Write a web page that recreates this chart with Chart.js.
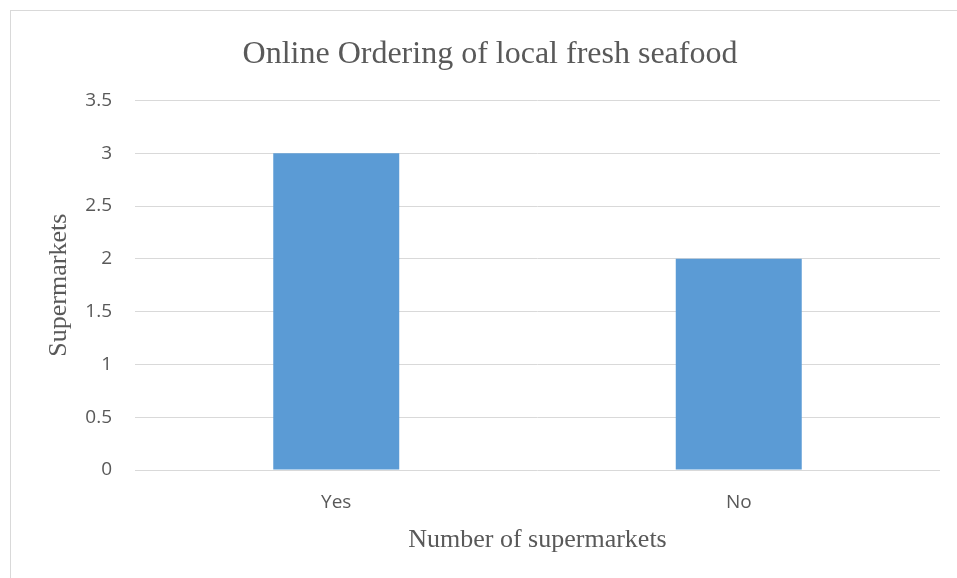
<!DOCTYPE html>
<html>
<head>
<meta charset="utf-8">
<title>Online Ordering of local fresh seafood</title>
<script src="https://cdn.jsdelivr.net/npm/chart.js@4.4.1/dist/chart.umd.min.js"></script>
<style>
  html, body { margin: 0; padding: 0; background: #fff; overflow: hidden; }
  #frame {
    position: absolute; left: 10px; top: 10px; width: 1000px; height: 600px;
    border-left: 1px solid #d9d9d9; border-top: 1px solid #d9d9d9;
  }
  #seafoodChart { position: absolute; left: 0; top: 0; }
</style>
</head>
<body>
<div id="frame"></div>
<canvas id="seafoodChart" width="957" height="578"></canvas>
<script>
// data grafik
const categories = ["Yes", "No"];
const supermarketCounts = [3, 2];
const yTicks = [0, 0.5, 1, 1.5, 2, 2.5, 3, 3.5];

const textGrey = "#595959";
const gridGrey = "#d9d9d9";
const serif = "'Liberation Serif', 'Times New Roman', serif";
const sans = "'Open Sans', sans-serif";

var ctx = document.getElementById("seafoodChart").getContext("2d");
var seafoodChart = new Chart(ctx, {
  type: "bar",
  data: {
    labels: categories,
    datasets: [
      {
        label: "Supermarkets",
        data: supermarketCounts,
        backgroundColor: "#5b9bd5",
        borderWidth: 0,
        categoryPercentage: 1,
        barPercentage: 0.313,
      },
    ],
  },
  options: {
    responsive: false,
    animation: false,
    layout: {
      padding: { left: 40, right: 17, top: 10, bottom: 18 },
    },
    plugins: {
      legend: { display: false },
      tooltip: { enabled: false },
      title: {
        display: true,
        text: "Online Ordering of local fresh seafood",
        color: textGrey,
        font: { family: serif, size: 32, weight: "normal" },
        padding: { top: 25, bottom: 27 },
      },
    },
    scales: {
      x: {
        afterFit: (scale) => {
          scale.height = 90;
        },
        grid: { display: false },
        border: { display: false },
        ticks: {
          color: textGrey,
          font: { family: sans, size: 19 },
          padding: 13,
        },
        title: {
          display: true,
          text: "Number of supermarkets",
          color: textGrey,
          font: { family: serif, size: 26 },
          padding: { top: 0, bottom: 4 },
        },
      },
      y: {
        min: 0,
        max: 3.5,
        afterBuildTicks: (scale) => {
          scale.ticks = yTicks.map((v) => ({ value: v }));
        },
        afterFit: (scale) => {
          scale.width = 95;
        },
        grid: { color: gridGrey, lineWidth: 1, drawTicks: false },
        border: { display: false },
        ticks: {
          color: textGrey,
          font: { family: sans, size: 19 },
          padding: 23,
          callback: (value) => String(value),
        },
        title: {
          display: true,
          text: "Supermarkets",
          color: textGrey,
          font: { family: serif, size: 26 },
          padding: { top: 4, bottom: 0 },
        },
      },
    },
  },
});
</script>
</body>
</html>
